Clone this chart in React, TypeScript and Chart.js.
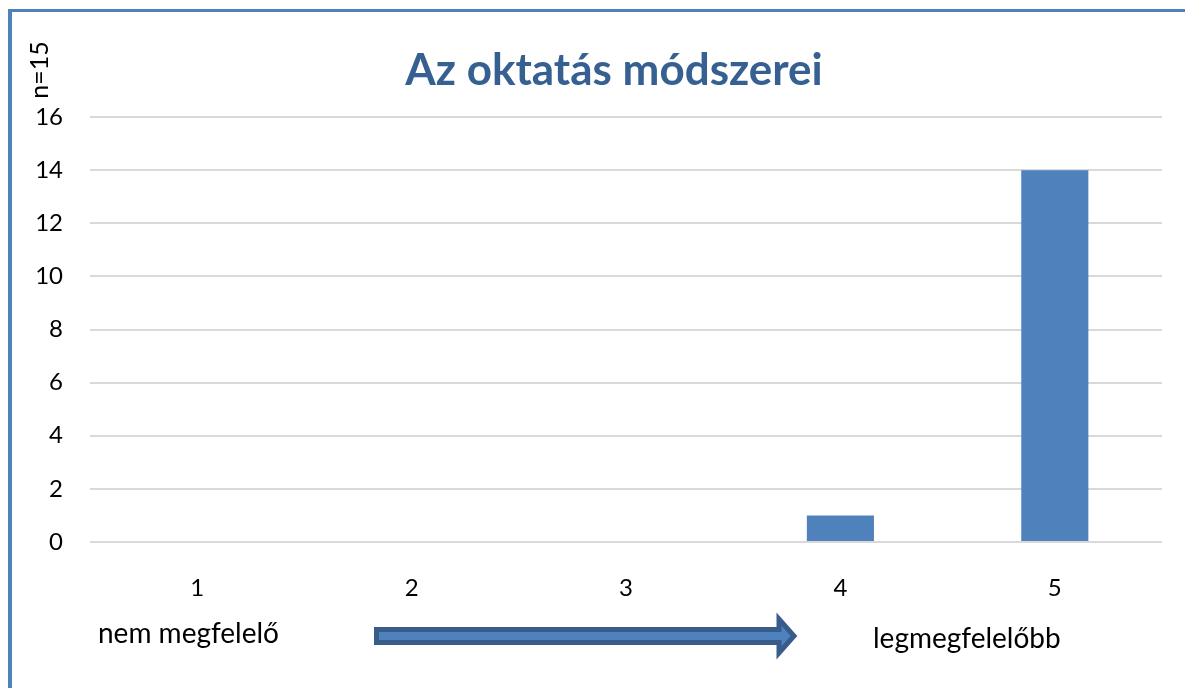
import React, { useEffect, useRef } from "react";
import { Chart, registerables } from "chart.js";

Chart.register(...registerables);

const categories = ["1", "2", "3", "4", "5"];
const counts = [0, 0, 0, 1, 14];
const yMin = 0;
const yMax = 16;
const yStep = 2;
const titleText = "Az oktatás módszerei";
const yAxisTitle = "n=15";
const leftNote = "nem megfelelő";
const rightNote = "legmegfelelőbb";

const FONT = "Lato, 'Open Sans', sans-serif";

const overlayPlugin = {
  id: "overlay",
  afterDraw(chart: any) {
    const ctx = chart.ctx as CanvasRenderingContext2D;
    ctx.save();
    // Title
    ctx.fillStyle = "#376092";
    ctx.font = `bold 44px ${FONT}`;
    ctx.textAlign = "center";
    ctx.textBaseline = "alphabetic";
    ctx.fillText(titleText, 614, 85);

    // y-axis title (rotated)
    ctx.save();
    ctx.translate(48, 70);
    ctx.rotate(-Math.PI / 2);
    ctx.fillStyle = "#000";
    ctx.font = `25px ${FONT}`;
    ctx.textAlign = "center";
    ctx.textBaseline = "alphabetic";
    ctx.fillText(yAxisTitle, 0, 0);
    ctx.restore();

    // notes
    ctx.fillStyle = "#000";
    ctx.font = `28px ${FONT}`;
    ctx.textAlign = "left";
    ctx.fillText(leftNote, 98, 643);
    ctx.fillText(rightNote, 873, 648);

    // arrow
    ctx.beginPath();
    ctx.moveTo(376.5, 629.5);
    ctx.lineTo(779, 629.5);
    ctx.lineTo(779, 619);
    ctx.lineTo(794, 636);
    ctx.lineTo(779, 653);
    ctx.lineTo(779, 642.5);
    ctx.lineTo(376.5, 642.5);
    ctx.closePath();
    ctx.fillStyle = "#4F81BD";
    ctx.fill();
    ctx.lineWidth = 5;
    ctx.lineJoin = "miter";
    ctx.strokeStyle = "#385D8A";
    ctx.stroke();
    ctx.restore();
  },
};

export default function App() {
  const ref = useRef<HTMLCanvasElement>(null);
  useEffect(() => {
    if (!ref.current) return;
    const chart = new Chart(ref.current, {
      type: "bar",
      data: {
        labels: categories,
        datasets: [
          {
            data: counts,
            backgroundColor: "#4F81BD",
            borderWidth: 0,
            categoryPercentage: 1,
            barPercentage: 0.313,
          },
        ],
      },
      options: {
        responsive: false,
        animation: false,
        layout: { padding: { left: 0, right: 23, top: 117, bottom: 0 } },
        plugins: {
          legend: { display: false },
          tooltip: { enabled: false },
          title: { display: false },
        },
        scales: {
          x: {
            grid: { display: false, drawTicks: false },
            border: { display: false },
            ticks: {
              color: "#000",
              font: { family: FONT, size: 24 },
              padding: 32,
            },
            afterFit(scale: any) {
              scale.height = 688 - 542 - 0;
            },
          },
          y: {
            min: yMin,
            max: yMax,
            grid: { color: "#D9D9D9", lineWidth: 2, drawTicks: false },
            border: { display: false },
            ticks: {
              stepSize: yStep,
              color: "#000",
              font: { family: FONT, size: 24 },
              padding: 27,
            },
            afterFit(scale: any) {
              scale.width = 90;
            },
          },
        },
      },
      plugins: [overlayPlugin],
    });
    return () => chart.destroy();
  }, []);

  return (
    <div>
      <div
        style={{
          position: "fixed",
          left: 8,
          top: 9,
          width: 1300,
          height: 800,
          borderLeft: "4px solid #4F81BD",
          borderTop: "3px solid #4F81BD",
          boxSizing: "border-box",
        }}
      />
      <canvas
        ref={ref}
        width={1185}
        height={688}
        style={{ position: "fixed", left: 0, top: 0, display: "block" }}
      />
    </div>
  );
}
